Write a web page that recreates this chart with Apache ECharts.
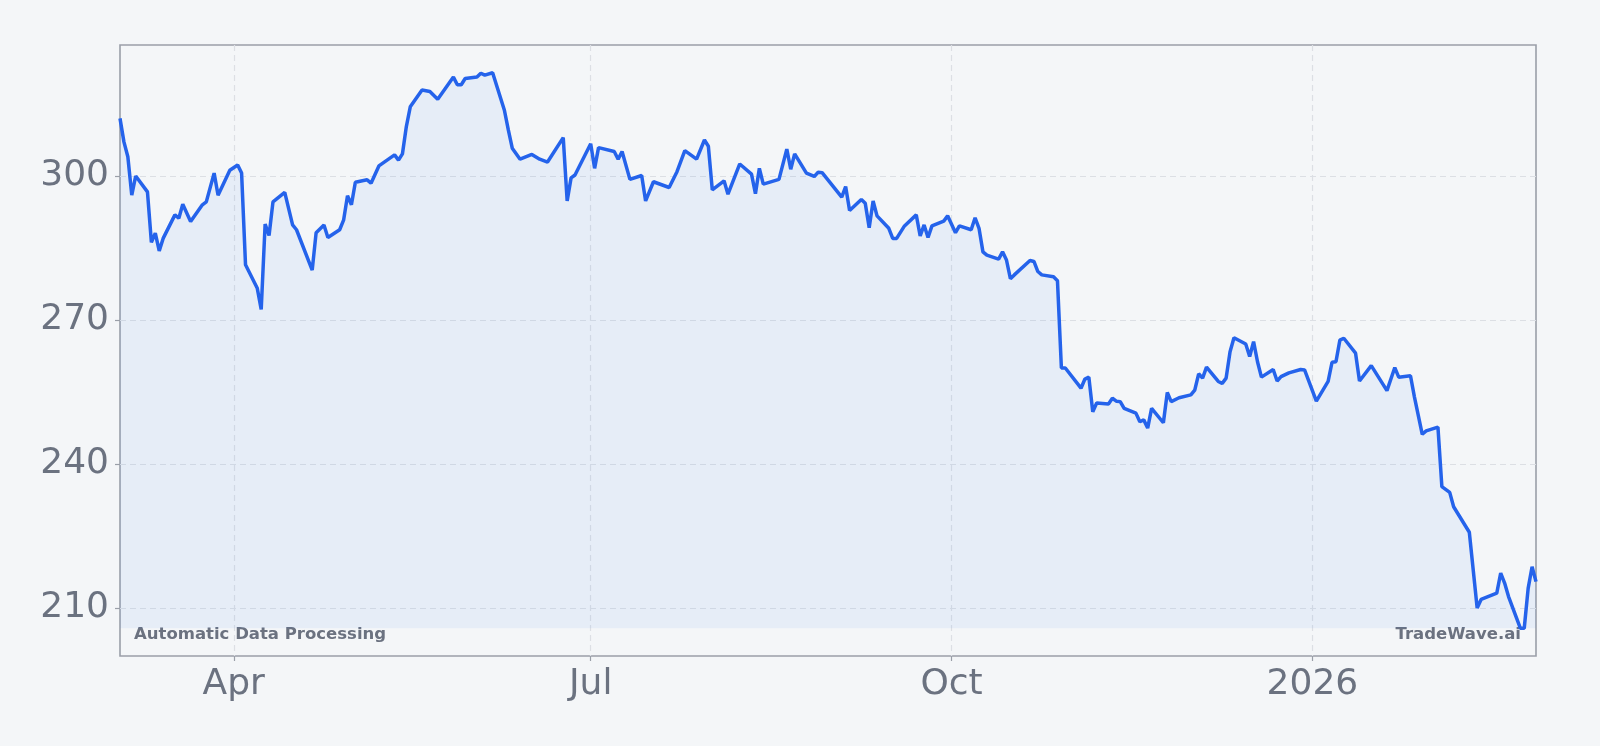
<html>
<head>
    <title></title>
    <meta charset="utf-8">
    <script src="https://cdn.jsdelivr.net/npm/echarts@6/dist/echarts.min.js" type="text/javascript"></script>
</head>
<body style="margin:0;background:#f4f6f8">
    <div id="main" style="width: 1600px; height: 746px">
    </div>
    <script>
        var dates = [
            '2025-03-03', '2025-03-04', '2025-03-05', '2025-03-06', '2025-03-07', '2025-03-10', '2025-03-11', '2025-03-12',
            '2025-03-13', '2025-03-14', '2025-03-17', '2025-03-18', '2025-03-19', '2025-03-21', '2025-03-24', '2025-03-25',
            '2025-03-27', '2025-03-28', '2025-03-31', '2025-04-02', '2025-04-03', '2025-04-04', '2025-04-07', '2025-04-08',
            '2025-04-09', '2025-04-10', '2025-04-11', '2025-04-14', '2025-04-16', '2025-04-17', '2025-04-21', '2025-04-22',
            '2025-04-24', '2025-04-25', '2025-04-28', '2025-04-29', '2025-04-30', '2025-05-01', '2025-05-02', '2025-05-05',
            '2025-05-06', '2025-05-08', '2025-05-12', '2025-05-13', '2025-05-14', '2025-05-15', '2025-05-16', '2025-05-19',
            '2025-05-21', '2025-05-23', '2025-05-27', '2025-05-28', '2025-05-29', '2025-05-30', '2025-06-02', '2025-06-03',
            '2025-06-04', '2025-06-06', '2025-06-09', '2025-06-10', '2025-06-11', '2025-06-13', '2025-06-16', '2025-06-18',
            '2025-06-20', '2025-06-24', '2025-06-25', '2025-06-26', '2025-06-27', '2025-07-01', '2025-07-02', '2025-07-03',
            '2025-07-07', '2025-07-08', '2025-07-09', '2025-07-11', '2025-07-14', '2025-07-15', '2025-07-17', '2025-07-21',
            '2025-07-23', '2025-07-25', '2025-07-28', '2025-07-30', '2025-07-31', '2025-08-01', '2025-08-04', '2025-08-05',
            '2025-08-08', '2025-08-11', '2025-08-12', '2025-08-13', '2025-08-14', '2025-08-18', '2025-08-20', '2025-08-21',
            '2025-08-22', '2025-08-25', '2025-08-27', '2025-08-28', '2025-08-29', '2025-09-03', '2025-09-04', '2025-09-05',
            '2025-09-08', '2025-09-09', '2025-09-10', '2025-09-11', '2025-09-12', '2025-09-15', '2025-09-16', '2025-09-17',
            '2025-09-19', '2025-09-22', '2025-09-23', '2025-09-24', '2025-09-25', '2025-09-26', '2025-09-29', '2025-09-30',
            '2025-10-02', '2025-10-03', '2025-10-06', '2025-10-07', '2025-10-08', '2025-10-09', '2025-10-10', '2025-10-13',
            '2025-10-14', '2025-10-15', '2025-10-16', '2025-10-17', '2025-10-21', '2025-10-22', '2025-10-23', '2025-10-24',
            '2025-10-27', '2025-10-28', '2025-10-29', '2025-10-30', '2025-11-03', '2025-11-04', '2025-11-05', '2025-11-06',
            '2025-11-07', '2025-11-10', '2025-11-11', '2025-11-12', '2025-11-13', '2025-11-14', '2025-11-17', '2025-11-18',
            '2025-11-19', '2025-11-20', '2025-11-21', '2025-11-24', '2025-11-25', '2025-11-26', '2025-11-28', '2025-12-01',
            '2025-12-02', '2025-12-03', '2025-12-04', '2025-12-05', '2025-12-08', '2025-12-09', '2025-12-10', '2025-12-11',
            '2025-12-12', '2025-12-15', '2025-12-16', '2025-12-17', '2025-12-18', '2025-12-19', '2025-12-22', '2025-12-23',
            '2025-12-24', '2025-12-26', '2025-12-29', '2025-12-30', '2026-01-02', '2026-01-05', '2026-01-06', '2026-01-07',
            '2026-01-08', '2026-01-09', '2026-01-12', '2026-01-13', '2026-01-16', '2026-01-20', '2026-01-22', '2026-01-23',
            '2026-01-26', '2026-01-27', '2026-01-29', '2026-01-30', '2026-02-02', '2026-02-03', '2026-02-05', '2026-02-06',
            '2026-02-10', '2026-02-12', '2026-02-13', '2026-02-17', '2026-02-18', '2026-02-19', '2026-02-20', '2026-02-23',
            '2026-02-24', '2026-02-25', '2026-02-26', '2026-02-27'
        ];
        var prices = [
            312.0, 307.1, 304.0, 296.0, 300.0, 296.7, 286.2, 288.1,
            284.4, 287.0, 291.9, 291.2, 294.1, 290.5, 294.0, 294.6,
            300.6, 296.0, 301.2, 302.3, 300.6, 281.5, 276.6, 272.2,
            290.0, 287.6, 294.6, 296.6, 289.8, 288.8, 280.4, 288.2,
            289.8, 287.2, 288.8, 290.8, 295.9, 294.0, 298.7, 299.2,
            298.5, 302.1, 304.4, 303.3, 304.6, 310.3, 314.4, 317.9,
            317.6, 316.0, 320.6, 319.0, 319.0, 320.3, 320.6, 321.4,
            321.0, 321.5, 313.7, 309.6, 305.8, 303.5, 304.5, 303.5,
            302.9, 308.0, 294.8, 299.6, 300.2, 306.7, 301.6, 305.9,
            305.1, 303.5, 305.1, 299.3, 300.1, 294.8, 298.8, 297.6,
            300.9, 305.3, 303.5, 307.5, 306.2, 297.1, 299.0, 296.2,
            302.5, 300.4, 296.3, 301.6, 298.3, 299.3, 305.6, 301.4,
            304.6, 300.6, 299.9, 300.8, 300.7, 295.6, 297.8, 292.8,
            295.1, 294.3, 289.2, 294.8, 291.7, 289.1, 287.0, 287.0,
            289.6, 291.9, 287.5, 289.8, 287.2, 289.6, 290.6, 291.7,
            288.2, 289.6, 288.8, 291.3, 289.1, 284.2, 283.5, 282.7,
            284.2, 282.5, 278.6, 279.4, 282.4, 282.2, 280.1, 279.4,
            279.0, 278.2, 260.0, 260.0, 255.8, 257.7, 258.1, 250.9,
            252.7, 252.5, 253.7, 253.1, 253.0, 251.6, 250.6, 248.8,
            249.2, 247.5, 251.6, 248.6, 254.9, 253.0, 253.8, 254.4,
            255.4, 258.8, 257.9, 260.2, 257.2, 256.8, 257.9, 263.4,
            266.3, 265.0, 262.4, 265.5, 261.3, 258.1, 259.7, 257.3,
            258.2, 259.0, 259.7, 259.6, 253.1, 257.2, 261.2, 261.3,
            265.8, 266.2, 263.1, 257.3, 260.5, 255.3, 260.1, 258.1,
            258.4, 254.0, 246.2, 246.9, 247.7, 235.3, 234.1, 231.1,
            225.8, 210.0, 211.8, 213.1, 217.3, 215.2, 212.4, 205.8,
            205.8, 214.1, 218.6, 215.5
        ];
        var yTicks = [210, 240, 270, 300];
        var xTickDates = ['2025-04-01', '2025-07-01', '2025-10-01', '2026-01-01'];
        var xTickNames = ['Apr', 'Jul', 'Oct', '2026'];
        var company = 'Automatic Data Processing';
        var brand = 'TradeWave.ai';

        function ts(s) {
            var p = s.split('-');
            return Date.UTC(+p[0], +p[1] - 1, +p[2]);
        }

        window.onload = function () {
            var myChart = echarts.init(document.getElementById('main'));

            var seriesData = [];
            for (var i = 0; i < dates.length; i++) {
                seriesData.push([ts(dates[i]), prices[i]]);
            }
            var xTickTs = xTickDates.map(ts);

            // 5% headroom above and below the data, area filled down to the lowest close
            var lo = Math.min.apply(null, prices);
            var hi = Math.max.apply(null, prices);
            var pad = (hi - lo) * 0.05;

            var labelFont = 'DejaVu Sans';
            var gray = '#6b7280';
            var gridLine = { show: true, lineStyle: { color: '#dcdfe4', type: [6, 4], width: 1.2 } };

            var option = {
                animation: false,
                backgroundColor: '#f4f6f8',
                grid: {
                    left: 120,
                    right: 64,
                    top: 45,
                    bottom: 90,
                    show: true,
                    borderColor: '#9a9fa8',
                    borderWidth: 1.6,
                    backgroundColor: 'transparent'
                },
                xAxis: {
                    type: 'value',
                    min: ts(dates[0]),
                    max: ts(dates[dates.length - 1]),
                    axisLine: { show: false },
                    axisTick: {
                        show: true,
                        length: 5,
                        customValues: xTickTs,
                        lineStyle: { color: '#9a9fa8', width: 1.2 }
                    },
                    axisLabel: {
                        customValues: xTickTs,
                        color: gray,
                        fontFamily: labelFont,
                        fontSize: 36,
                        margin: 11,
                        formatter: function (val) {
                            var k = xTickTs.indexOf(val);
                            return k >= 0 ? xTickNames[k] : '';
                        }
                    },
                    splitLine: gridLine
                },
                yAxis: {
                    type: 'value',
                    min: lo - pad,
                    max: hi + pad,
                    axisLine: { show: false },
                    axisTick: {
                        show: true,
                        length: 5,
                        customValues: yTicks,
                        lineStyle: { color: '#9a9fa8', width: 1.2 }
                    },
                    axisLabel: {
                        customValues: yTicks,
                        color: gray,
                        fontFamily: labelFont,
                        fontSize: 36,
                        margin: 11,
                        padding: [10, 0, 0, 0]
                    },
                    splitLine: gridLine
                },
                graphic: [
                    {
                        type: 'text',
                        left: 134,
                        top: 626,
                        style: { text: company, fill: gray, font: 'bold 16.5px "DejaVu Sans"' }
                    },
                    {
                        type: 'text',
                        right: 79,
                        top: 626,
                        style: { text: brand, fill: gray, font: 'bold 16.5px "DejaVu Sans"' }
                    }
                ],
                series: [
                    {
                        type: 'line',
                        data: seriesData,
                        showSymbol: false,
                        smooth: false,
                        lineStyle: { color: '#2563eb', width: 3.5 },
                        itemStyle: { color: '#2563eb' },
                        areaStyle: { color: 'rgba(59,130,246,0.1)', origin: lo }
                    }
                ]
            };
            myChart.setOption(option);
        }
    </script>
</body>
</html>
